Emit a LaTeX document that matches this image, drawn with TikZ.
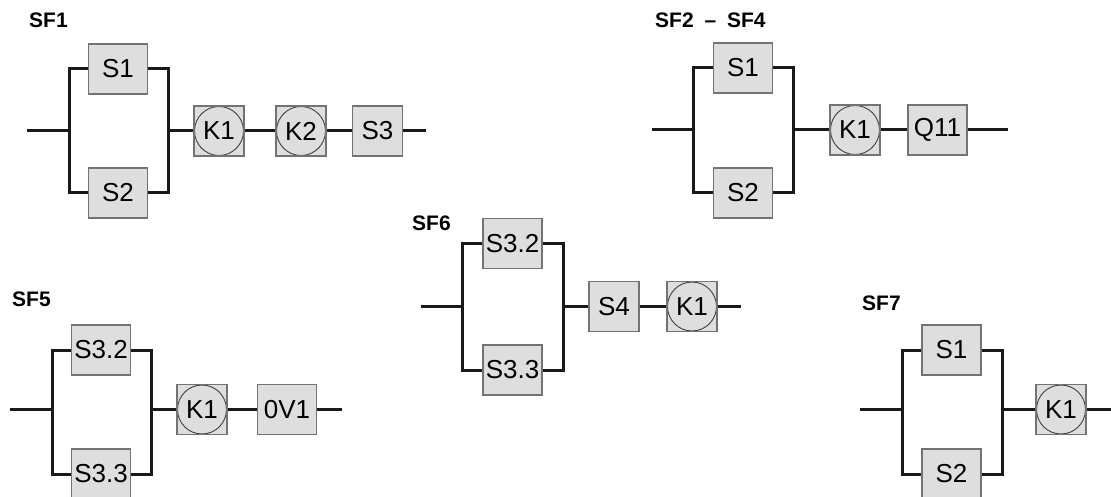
\documentclass[tikz,border=0pt]{standalone}
\usepackage{fontspec}
\setmainfont{Liberation Sans}
\tikzset{
    wire/.style={line width=3pt,black!90},
    blockbox/.style={draw=black!55,line width=1.4pt,fill=black!13,minimum height=50pt,inner sep=0pt,font=\fontsize{26}{26}\selectfont},
    sbox/.style={blockbox,minimum width=59pt},
    nbox/.style={blockbox,minimum width=50pt},
    relay/.style={nbox,path picture={\draw[black!75,line width=0.9pt] (path picture bounding box.center) circle (24.5pt);}},
    sflabel/.style={anchor=west,inner sep=0pt,font=\fontsize{21}{21}\bfseries\selectfont}
}
\begin{document}
\begin{tikzpicture}[x=1pt,y=-1pt]
    \useasboundingbox (0,0) rectangle (1111,497);
    % SF1
    \node[sflabel] (sfa) at (29,20) {SF1};
    \node[sbox] (a1) at (118,69) {S1};
    \node[sbox] (a2) at (118,193) {S2};
    \node[relay] (a3) at (219,131) {K1};
    \node[relay] (a4) at (301,131) {K2};
    \node[nbox] (a5) at (377.5,131) {S3};
    \coordinate (ain) at (27,131);
    \coordinate (al) at (69,131);
    \coordinate (ar) at (168,131);
    \coordinate (aout) at (426,131);
    \draw[wire] (ain) -- (al);
    \draw[wire] (a1) -| (al) |- (a2);
    \draw[wire] (a1) -| (ar) |- (a2);
    \draw[wire] (ar) -- (a3);
    \draw[wire] (a3) -- (a4);
    \draw[wire] (a4) -- (a5);
    \draw[wire] (a5) -- (aout);
    % SF2 - SF4
    \node[sflabel] (sfb) at (655,20) {SF2\hspace{5pt} – \hspace{5pt}SF4};
    \node[sbox] (b1) at (743,68) {S1};
    \node[sbox] (b2) at (743,193) {S2};
    \node[relay] (b3) at (855,130) {K1};
    \node[sbox] (b4) at (937.5,130) {Q11};
    \coordinate (bin) at (652,130);
    \coordinate (bl) at (693.5,130);
    \coordinate (br) at (793,130);
    \coordinate (bout) at (1008,130);
    \draw[wire] (bin) -- (bl);
    \draw[wire] (b1) -| (bl) |- (b2);
    \draw[wire] (b1) -| (br) |- (b2);
    \draw[wire] (br) -- (b3);
    \draw[wire] (b3) -- (b4);
    \draw[wire] (b4) -- (bout);
    % SF5
    \node[sflabel] (sfc) at (12,299) {SF5};
    \node[sbox] (c1) at (101,350) {S3.2};
    \node[sbox] (c2) at (101,474) {S3.3};
    \node[relay] (c3) at (202,409.5) {K1};
    \node[sbox] (c4) at (287,409.5) {0V1};
    \coordinate (cin) at (10,409.5);
    \coordinate (cl) at (52,409.5);
    \coordinate (cr) at (151,409.5);
    \coordinate (cout) at (342,409.5);
    \draw[wire] (cin) -- (cl);
    \draw[wire] (c1) -| (cl) |- (c2);
    \draw[wire] (c1) -| (cr) |- (c2);
    \draw[wire] (cr) -- (c3);
    \draw[wire] (c3) -- (c4);
    \draw[wire] (c4) -- (cout);
    % SF6
    \node[sflabel] (sfd) at (412,223) {SF6};
    \node[sbox] (d1) at (512.5,243.5) {S3.2};
    \node[sbox] (d2) at (512.5,370) {S3.3};
    \node[nbox] (d3) at (614,306.5) {S4};
    \node[relay] (d4) at (692,306.5) {K1};
    \coordinate (din) at (421,306.5);
    \coordinate (dl) at (462,306.5);
    \coordinate (dr) at (563,306.5);
    \coordinate (dout) at (741,306.5);
    \draw[wire] (din) -- (dl);
    \draw[wire] (d1) -| (dl) |- (d2);
    \draw[wire] (d1) -| (dr) |- (d2);
    \draw[wire] (dr) -- (d3);
    \draw[wire] (d3) -- (d4);
    \draw[wire] (d4) -- (dout);
    % SF7
    \node[sflabel] (sfe) at (862,303) {SF7};
    \node[sbox] (e1) at (951.5,350) {S1};
    \node[sbox] (e2) at (951.5,474) {S2};
    \node[relay] (e3) at (1061,409.5) {K1};
    \coordinate (ein) at (860,409.5);
    \coordinate (el) at (902,409.5);
    \coordinate (er) at (1002,409.5);
    \coordinate (eout) at (1111,409.5);
    \draw[wire] (ein) -- (el);
    \draw[wire] (e1) -| (el) |- (e2);
    \draw[wire] (e1) -| (er) |- (e2);
    \draw[wire] (er) -- (e3);
    \draw[wire] (e3) -- (eout);
\end{tikzpicture}
\end{document}
